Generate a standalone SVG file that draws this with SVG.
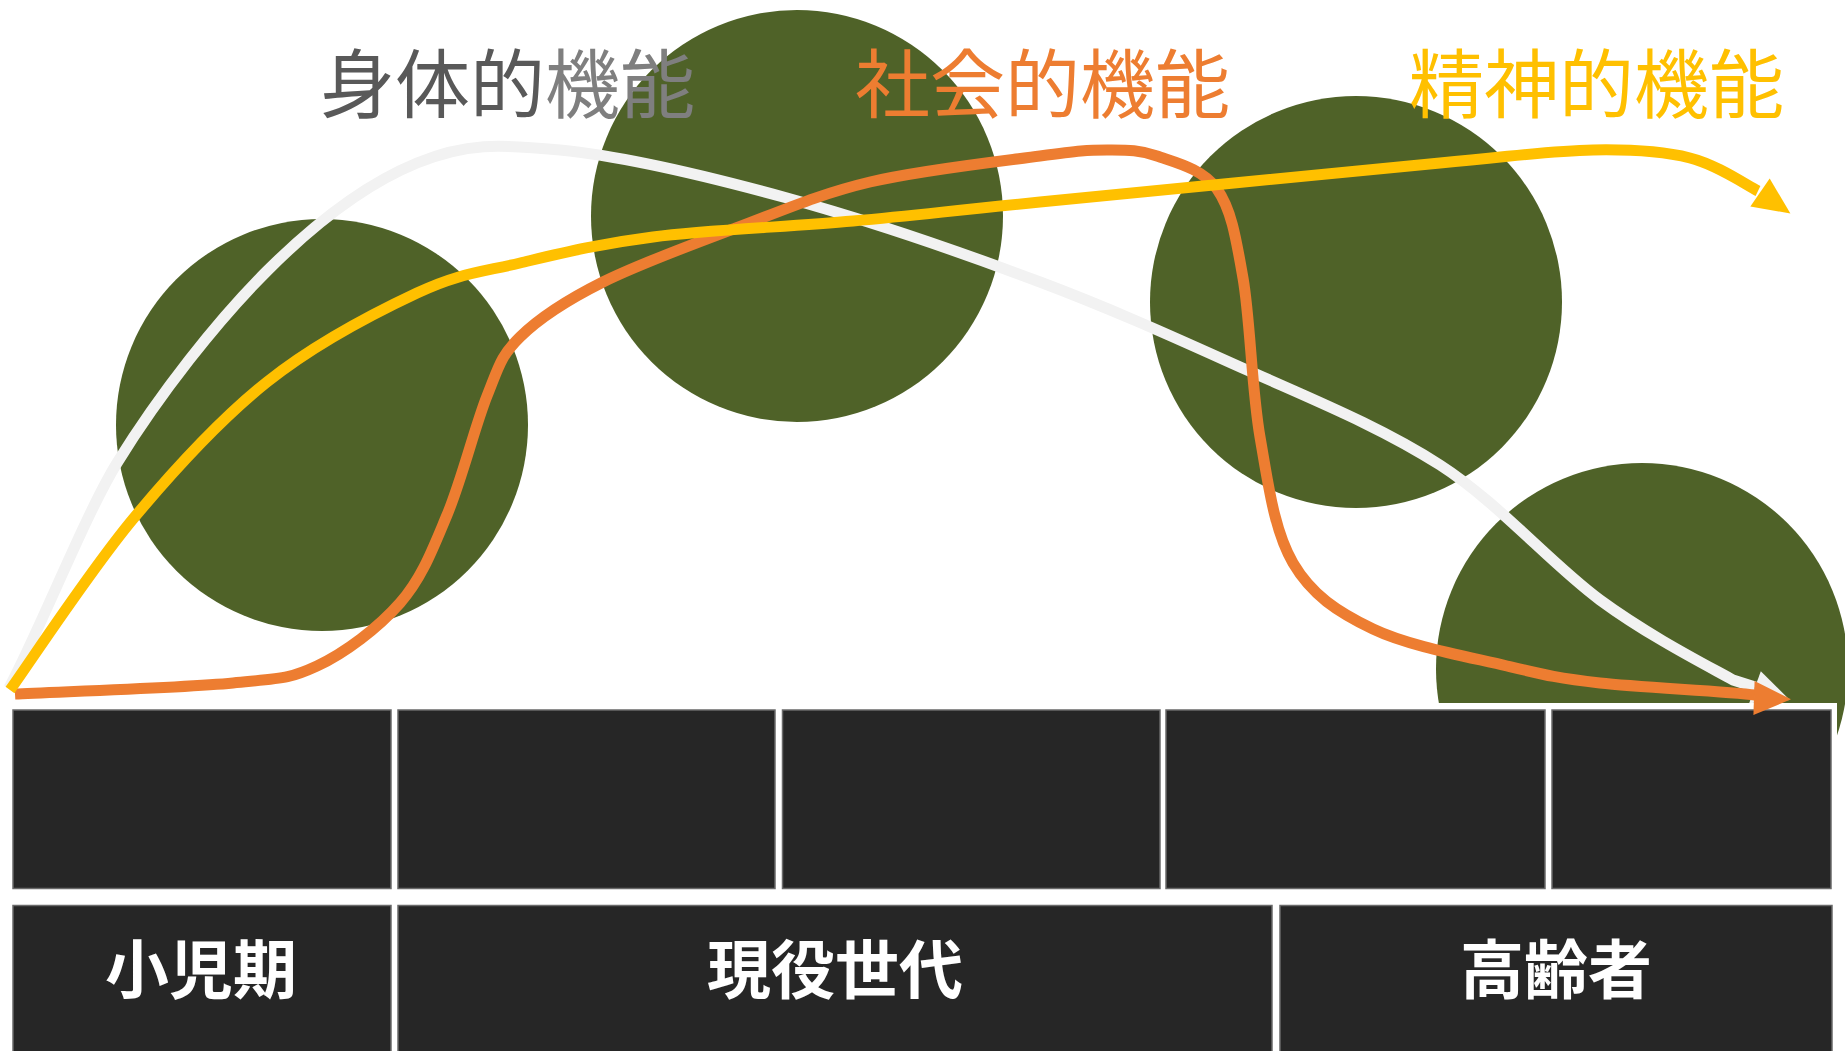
<svg xmlns="http://www.w3.org/2000/svg" xmlns:xlink="http://www.w3.org/1999/xlink" width="1845" height="1051" viewBox="0 0 1845 1051">
<defs>
<style>
.circle{fill:#4F6228}
.cell{fill:#262626;stroke:#6a6a6a;stroke-width:1.5}
.curve{fill:none;stroke-width:11;stroke-linecap:butt;stroke-linejoin:round}
.body{stroke:#F2F2F2}
.social{stroke:#ED7D31}
.mental{stroke:#FFC000}
.title{font-family:"Noto Sans CJK JP","Noto Sans CJK SC",sans-serif;font-size:75px;font-weight:400}
.label{font-family:"Noto Sans CJK JP","Noto Sans CJK SC",sans-serif;font-size:64px;font-weight:700;fill:#FFFFFF;text-anchor:middle}
</style>
<path id="ah" d="M0,-17 L37,0 L0,17 Z"/>
</defs>
<rect width="1845" height="1051" fill="#FFFFFF"/>

<g id="circle-1"><circle class="circle" cx="322" cy="425" r="206"/></g>
<g id="circle-2"><circle class="circle" cx="797" cy="216" r="206"/></g>
<g id="circle-3"><circle class="circle" cx="1356" cy="302" r="206"/></g>
<g id="circle-4"><circle class="circle" cx="1642" cy="669" r="206"/></g>

<rect x="6" y="703" width="1831" height="348" fill="#FFFFFF"/>
<g id="cell-r1-1"><rect class="cell" x="13" y="710" width="378" height="178.5"/></g>
<g id="cell-r1-2"><rect class="cell" x="398" y="710" width="377" height="178.5"/></g>
<g id="cell-r1-3"><rect class="cell" x="782.5" y="710" width="377.5" height="178.5"/></g>
<g id="cell-r1-4"><rect class="cell" x="1166" y="710" width="379" height="178.5"/></g>
<g id="cell-r1-5"><rect class="cell" x="1552" y="710" width="279" height="178.5"/></g>
<g id="stage-child"><rect class="cell" x="13" y="905.5" width="378" height="160"/><text class="label" x="201" y="993">小児期</text></g>
<g id="stage-working"><rect class="cell" x="398" y="905.5" width="874" height="160"/><text class="label" x="835" y="993">現役世代</text></g>
<g id="stage-elderly"><rect class="cell" x="1280" y="905.5" width="552" height="160"/><text class="label" x="1556" y="993">高齢者</text></g>

<g id="connectors">
<path class="curve body" d="M9,688 C40,630 85,515 117,463 C160,393.5 217,321 267,271 C317,221 368,183 417,163 C466,143 498,144 560,150 C622,156 707,176 787,198 C867,220 963,253 1040,282 C1117,311 1180,340 1247,370 C1314,400 1381,427 1440,465 C1499,503 1551,564 1600,600 C1649,636 1706,665 1733,680 L1755,687"/>
<use xlink:href="#ah" href="#ah" transform="translate(1755,687.3) rotate(20)" fill="#F2F2F2"/>
<path class="curve social" d="M15,694 C51,692 183,688 233,683 C283,678 289,679 317,666 C345,653 378,628 400,603 C422,578 432.5,549.5 447,515 C461.5,480.5 475,426 487,396 C499,366 500.7,356 520,337 C539.3,318 567,300 603,282 C639,264 691.5,244.7 736,228 C780.5,211.3 819.3,194 870,182 C920.7,170 1000.5,161.3 1040,156 C1079.5,150.7 1087.5,150 1107,150 C1126.5,150 1138.7,149.5 1157,156 C1175.3,162.5 1202.7,168.7 1217,189 C1231.3,209.3 1235.8,236.7 1243,278 C1250.2,319.3 1251.7,389.5 1260,437 C1268.3,484.5 1274.2,531 1293,563 C1311.8,595 1337.3,611.8 1373,629 C1408.7,646.2 1469.2,657 1507,666 C1544.8,675 1558.7,678.5 1600,683 C1641.3,687.5 1729.2,691.3 1755,695"/>
<use xlink:href="#ah" href="#ah" transform="translate(1754,698) rotate(2)" fill="#ED7D31"/>
<path class="curve mental" d="M10,690 C30.5,661.5 90.2,570.3 133,519 C175.8,467.7 219.7,419.7 267,382 C314.3,344.3 374.8,312.8 417,293 C459.2,273.2 480.7,272.3 520,263 C559.3,253.7 597.5,244 653,237 C708.5,230 788.5,226.8 853,221 C917.5,215.2 942.2,211.7 1040,202 C1137.8,192.3 1347.8,171.7 1440,163 C1532.2,154.3 1551.3,150.8 1593,150 C1634.7,149.2 1662.5,151.2 1690,158 C1717.5,164.8 1746.7,185.5 1758,191"/>
<use xlink:href="#ah" href="#ah" transform="translate(1760,192.5) rotate(34.7)" fill="#FFC000"/>
</g>

<g id="label-body"><text class="title" x="320" y="112"><tspan fill="#595959">身体的</tspan><tspan fill="#7F7F7F">機能</tspan></text></g>
<g id="label-social"><text class="title" x="855" y="112" fill="#ED7D31">社会的機能</text></g>
<g id="label-mental"><text class="title" x="1409" y="112" fill="#FFC000">精神的機能</text></g>
</svg>
